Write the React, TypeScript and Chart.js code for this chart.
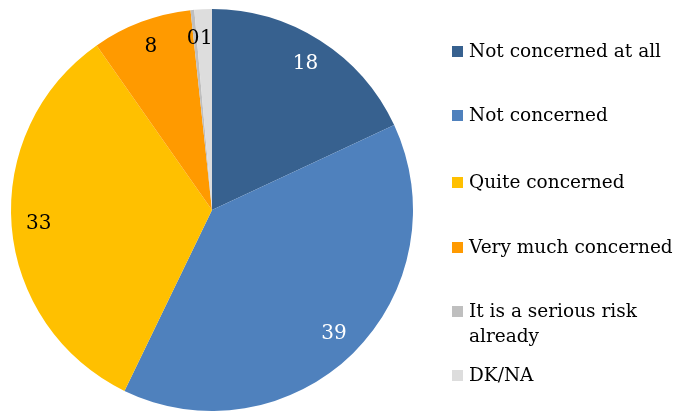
import React, { useEffect, useRef } from "react";
import { Chart, registerables } from "chart.js";

Chart.register(...registerables);

const categories: string[][] = [
  ["Not concerned at all"],
  ["Not concerned"],
  ["Quite concerned"],
  ["Very much concerned"],
  ["It is a serious risk", "already"],
  ["DK/NA"],
];
const values: number[] = [18, 39, 33, 8, 0.3, 1.4];
const shownLabels: string[] = ["18", "39", "33", "8", "0", "1"];
const colors: string[] = ["#37618F", "#4F81BD", "#FFC000", "#FF9A00", "#BFBFBF", "#DDDDDD"];
const labelColors: string[] = ["#FFFFFF", "#FFFFFF", "#000000", "#000000", "#000000", "#000000"];
const legendY: number[] = [52, 116, 183, 248, 312, 376];

const FONT = "'DejaVu Serif', Georgia, serif";

const labelPlugin = {
  id: "sliceLabels",
  afterDatasetsDraw(chart: any) {
    const ctx = chart.ctx;
    const meta = chart.getDatasetMeta(0);
    ctx.save();
    ctx.font = `20px ${FONT}`;
    ctx.textAlign = "center";
    ctx.textBaseline = "middle";
    meta.data.forEach((arc: any, i: number) => {
      const { x, y, startAngle, endAngle, outerRadius } = arc.getProps(
        ["x", "y", "startAngle", "endAngle", "outerRadius"],
        true
      );
      const mid = (startAngle + endAngle) / 2;
      const r = outerRadius * 0.865;
      let lx = x + Math.cos(mid) * r;
      let ly = y + Math.sin(mid) * r;
      if (i === 4) { lx -= 2; ly += 2; }
      if (i === 5) { lx += 2; ly += 2; }
      ctx.fillStyle = labelColors[i];
      ctx.fillText(shownLabels[i], lx, ly);
    });
    ctx.restore();
  },
};

const legendPlugin = {
  id: "customLegend",
  afterDraw(chart: any) {
    const ctx = chart.ctx;
    ctx.save();
    ctx.font = `18.5px ${FONT}`;
    ctx.textAlign = "left";
    ctx.textBaseline = "middle";
    categories.forEach((lines, i) => {
      const y = legendY[i];
      ctx.fillStyle = colors[i];
      ctx.fillRect(452, y - 6, 11, 11);
      ctx.fillStyle = "#000000";
      lines.forEach((line, j) => {
        ctx.fillText(line, 469, y + j * 25);
      });
    });
    ctx.restore();
  },
};

export default function App() {
  const ref = useRef<HTMLCanvasElement | null>(null);
  useEffect(() => {
    if (!ref.current) return;
    const chart = new Chart(ref.current, {
      type: "pie",
      data: {
        labels: categories.map((c) => c.join(" ")),
        datasets: [
          {
            data: values,
            backgroundColor: colors,
            borderWidth: 0,
          },
        ],
      },
      options: {
        responsive: false,
        animation: false,
        layout: { padding: { left: 11, top: 9, right: 275, bottom: 0 } },
        plugins: {
          legend: { display: false },
          tooltip: { enabled: false },
        },
      },
      plugins: [labelPlugin, legendPlugin],
    });
    return () => chart.destroy();
  }, []);
  return (
    <div style={{ position: "fixed", left: 0, top: 0, width: 688, height: 411, background: "#fff" }}>
      <canvas ref={ref} width={688} height={411} />
    </div>
  );
}
